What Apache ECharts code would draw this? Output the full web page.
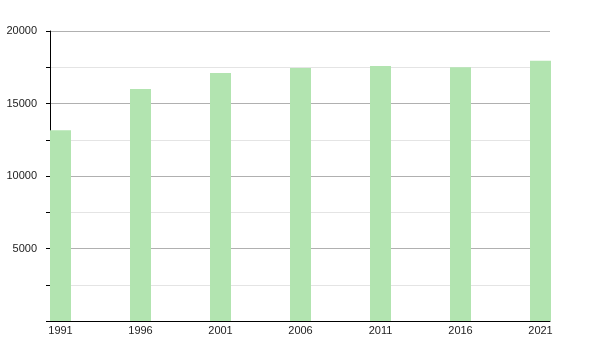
<!DOCTYPE html>
<html>
<head>
<meta charset="utf-8">
<script src="https://cdn.jsdelivr.net/npm/echarts@6/dist/echarts.min.js"></script>
<style>html,body{margin:0;padding:0;background:#fff}#c{width:600px;height:350px}</style>
</head>
<body>
<div id="c"></div>
<script>
const years = [1991, 1996, 2001, 2006, 2011, 2016, 2021];
const population = [13150, 16000, 17100, 17450, 17590, 17500, 17950];
const yTicks = [5000, 10000, 15000, 20000];

const chart = echarts.init(document.getElementById('c'), null, {renderer: 'canvas'});
chart.setOption({
  animation: false,
  grid: {left: 50, right: 50, top: 31, bottom: 29, containLabel: false},
  xAxis: {
    type: 'value',
    min: 1990.34375,
    max: 2021.59375,
    axisLine: {show: true, lineStyle: {color: '#000', width: 1}},
    axisTick: {show: false},
    splitLine: {show: false},
    axisLabel: {
      customValues: years,
      color: '#222',
      fontSize: 11,
      fontFamily: 'Liberation Sans, Arial, sans-serif',
      margin: 4,
      formatter: v => String(Math.round(v))
    }
  },
  yAxis: {
    type: 'value',
    min: 0,
    max: 20000,
    interval: 5000,
    axisLine: {show: true, lineStyle: {color: '#000', width: 1}},
    axisTick: {show: true, length: 4, lineStyle: {color: '#000'}},
    minorTick: {show: true, splitNumber: 2, length: 4, lineStyle: {color: '#000'}},
    splitLine: {show: true, lineStyle: {color: '#b0b0b0', width: 1}},
    minorSplitLine: {show: true, lineStyle: {color: '#e4e4e4', width: 1}},
    axisLabel: {
      color: '#222',
      fontSize: 11,
      fontFamily: 'Liberation Sans, Arial, sans-serif',
      margin: 13,
      formatter: v => (yTicks.indexOf(v) >= 0 ? String(v) : '')
    }
  },
  series: [{
    type: 'bar',
    data: years.map((y, i) => [y, population[i]]),
    barWidth: 21,
    itemStyle: {color: '#b2e4b0'}
  }]
});
</script>
</body>
</html>
